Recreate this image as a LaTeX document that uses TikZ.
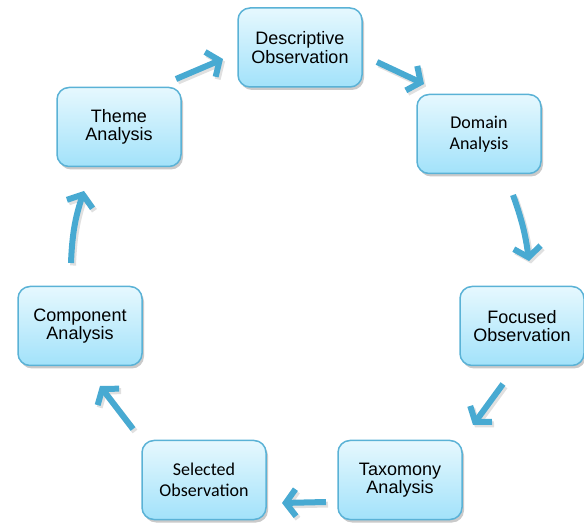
\documentclass[tikz,border=0pt]{standalone}
\usepackage{fontspec}
\setmainfont{Liberation Sans}
\newfontfamily\calibrifont{Carlito}
\usetikzlibrary{arrows.meta,shadows,calc}
\definecolor{boxborder}{RGB}{90,178,214}
\definecolor{boxtop}{RGB}{230,248,254}
\definecolor{boxbot}{RGB}{162,226,250}
\definecolor{arrowblue}{RGB}{72,170,210}
\begin{document}
\begin{tikzpicture}[x=1pt,y=-1pt,
 stagebox/.style={draw=boxborder, line width=1.5pt, rounded corners=12pt,
   minimum width=124pt, minimum height=79pt, top color=boxtop, bottom color=boxbot,
   align=center, inner sep=2pt,
   drop shadow={shadow xshift=2pt, shadow yshift=-3pt, opacity=0.35, fill=black!60}},
 arialtext/.style={font=\fontsize{18}{18.5}\selectfont},
 calibritext/.style={font=\calibrifont\fontsize{18}{21}\selectfont},
 cyclearrow/.style={draw=arrowblue, line width=6pt, line cap=butt,
   -{Straight Barb[length=10pt,width=27pt]}},
 arrowshade/.style={cyclearrow, draw=black, opacity=0.12, transform canvas={xshift=2pt,yshift=-2.5pt}},
]
\useasboundingbox (0,0) rectangle (584,526);

\node[stagebox,arialtext]   (desc)  at (300,47.5) {Descriptive\\Observation};
\node[stagebox,calibritext] (dom)   at (479,134)  {Domain\\Analysis};
\node[stagebox,arialtext]   (foc)   at (522,326)  {Focused\\Observation};
\node[stagebox,arialtext]   (tax)   at (400,480)  {Taxomony\\Analysis};
\node[stagebox,calibritext] (sel)   at (204,480)  {Selected\\Observation};
\node[stagebox,arialtext]   (comp)  at (80,326)   {Component\\Analysis};
\node[stagebox,arialtext]   (theme) at (119,127)  {Theme\\Analysis};

\coordinate (a1t) at (176,79);  \coordinate (a1h) at (223,59);
\coordinate (a2t) at (377,62);  \coordinate (a2h) at (424,84);
\coordinate (a3t) at (513,195); \coordinate (a3h) at (529,261);
\coordinate (a4t) at (503,384); \coordinate (a4h) at (473,425);
\coordinate (a5t) at (326,502); \coordinate (a5h) at (282,503);
\coordinate (a6t) at (133,429); \coordinate (a6h) at (100,386);
\coordinate (a7t) at (71,263);  \coordinate (a7h) at (84,191);

\foreach \s in {arrowshade,cyclearrow}{
  \draw[\s] (a1t) -- (a1h);
  \draw[\s] (a2t) -- (a2h);
  \draw[\s] (a3t) to[bend left=6] (a3h);
  \draw[\s] (a4t) -- (a4h);
  \draw[\s] (a5t) -- (a5h);
  \draw[\s] (a6t) -- (a6h);
  \draw[\s] (a7t) to[bend left=8] (a7h);
}
\end{tikzpicture}
\end{document}
